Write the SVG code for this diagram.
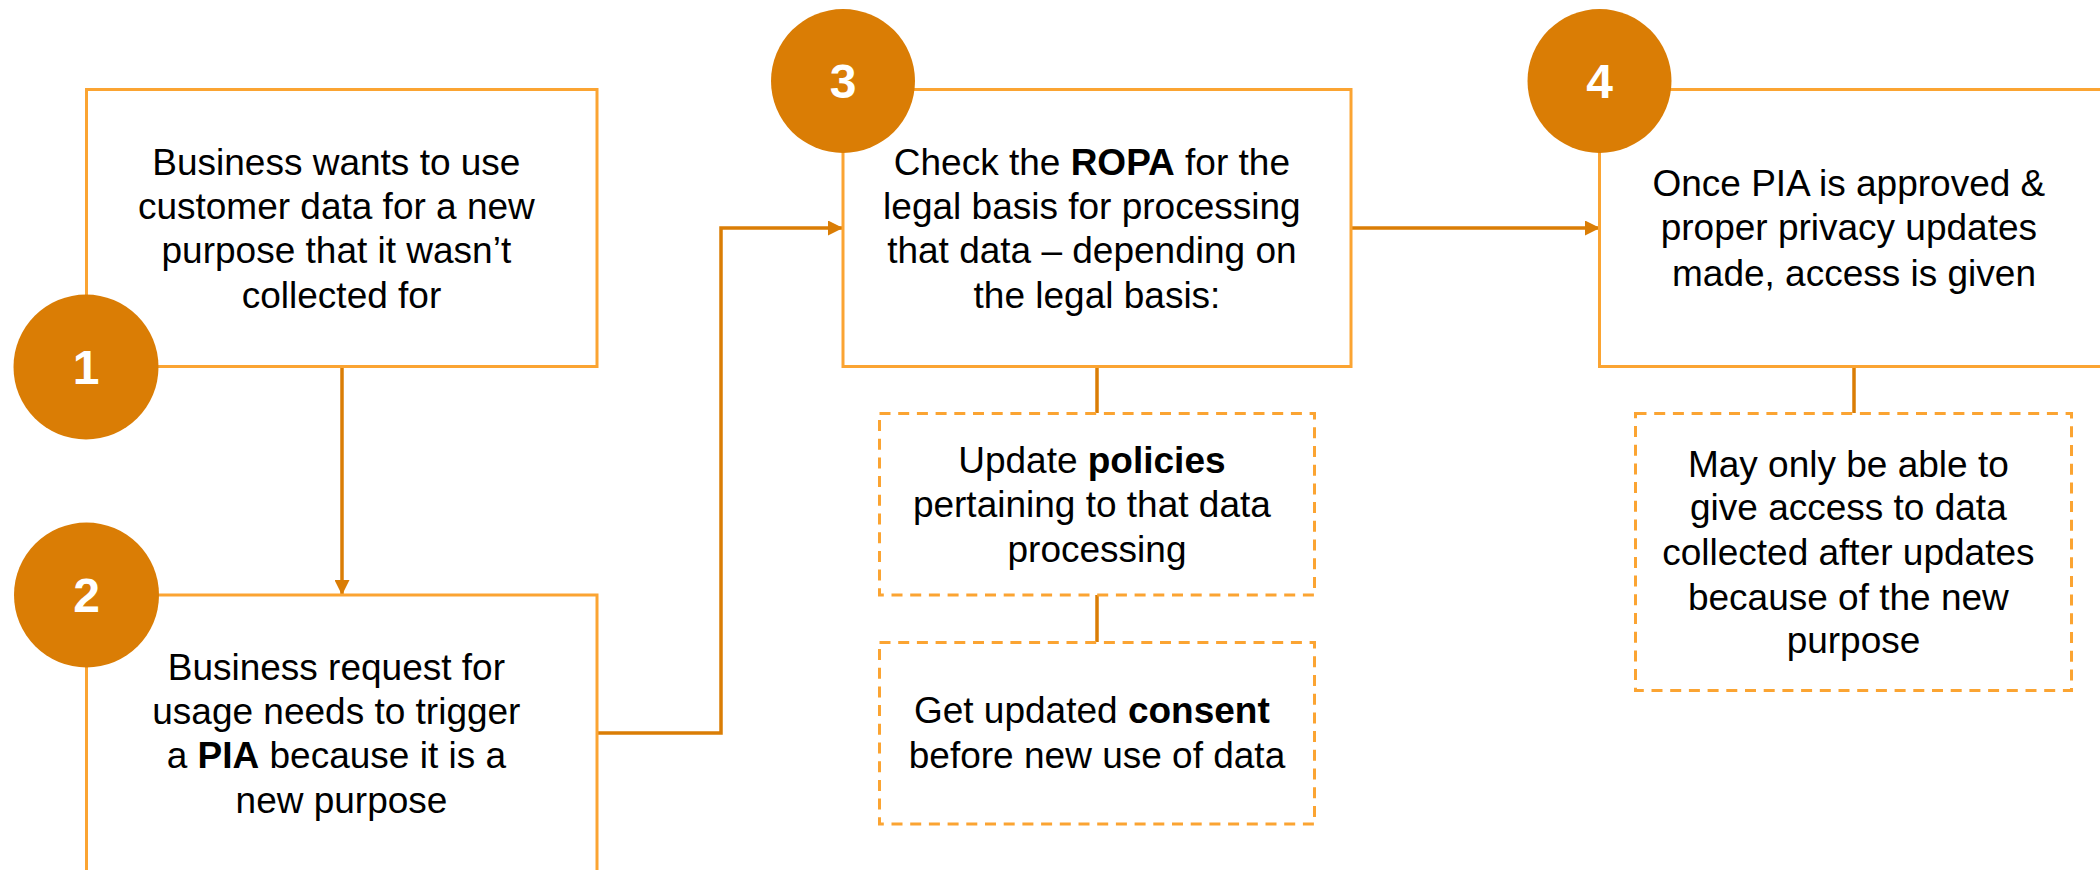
<svg xmlns="http://www.w3.org/2000/svg" width="2100" height="870" viewBox="0 0 2100 870">
  <style>
    .box { fill: #FFFFFF; stroke: #FBA432; stroke-width: 3; }
    .dbox { fill: #FFFFFF; stroke: #FBA432; stroke-width: 3; stroke-dasharray: 11 7.7; }
    .circ { fill: #DA7D05; }
    .num { font-family: "Liberation Sans", Arial, sans-serif; font-weight: bold; font-size: 48px; fill: #FFFFFF; text-anchor: middle; }
    .txt { font-family: "Liberation Sans", Arial, sans-serif; font-size: 37px; fill: #000000; text-anchor: middle; }
    .b { font-weight: bold; }
    .conn { fill: none; stroke: #DA7D05; stroke-width: 3.5; }
  </style>
  <defs>
    <marker id="arrow" viewBox="0 0 15 15" refX="15" refY="7.5" markerWidth="15" markerHeight="15" markerUnits="userSpaceOnUse" orient="auto">
      <path d="M0,0 L15,7.5 L0,15 Z" fill="#DA7D05"/>
    </marker>
  </defs>
  <rect width="2100" height="870" fill="#FFFFFF"/>

  <g id="connectors">
    <line class="conn" x1="342" y1="366" x2="342" y2="595" marker-end="url(#arrow)"/>
    <polyline class="conn" points="597,733 721,733 721,228 843,228" marker-end="url(#arrow)"/>
    <line class="conn" x1="1351" y1="228" x2="1600" y2="228" marker-end="url(#arrow)"/>
    <line class="conn" x1="1097" y1="367" x2="1097" y2="413"/>
    <line class="conn" x1="1097" y1="595" x2="1097" y2="642"/>
    <line class="conn" x1="1854" y1="367" x2="1854" y2="413"/>
  </g>

  <g id="step1">
    <rect class="box" x="86.5" y="89.5" width="510.5" height="277"/>
    <text class="txt">
      <tspan x="341.5" y="175">Business wants to use</tspan>
      <tspan x="341.5" y="219">customer data for a new</tspan>
      <tspan x="341.5" y="263">purpose that it wasn’t</tspan>
      <tspan x="341.5" y="308">collected for</tspan>
    </text>
    <circle class="circ" cx="86" cy="367" r="72.5"/>
    <text class="num" x="86" y="384">1</text>
  </g>

  <g id="step2">
    <rect class="box" x="86.5" y="595" width="510.5" height="300"/>
    <text class="txt">
      <tspan x="341.5" y="680">Business request for</tspan>
      <tspan x="341.5" y="724">usage needs to trigger</tspan>
      <tspan x="341.5" y="768">a <tspan class="b">PIA</tspan> because it is a</tspan>
      <tspan x="341.5" y="813">new purpose</tspan>
    </text>
    <circle class="circ" cx="86.5" cy="595" r="72.5"/>
    <text class="num" x="86.5" y="612">2</text>
  </g>

  <g id="step3">
    <rect class="box" x="843" y="89.5" width="508" height="277"/>
    <text class="txt">
      <tspan x="1097" y="175">Check the <tspan class="b">ROPA</tspan> for the</tspan>
      <tspan x="1097" y="219">legal basis for processing</tspan>
      <tspan x="1097" y="263">that data – depending on</tspan>
      <tspan x="1097" y="308">the legal basis:</tspan>
    </text>
    <circle class="circ" cx="843" cy="81" r="72"/>
    <text class="num" x="843" y="98">3</text>
  </g>

  <g id="policies">
    <rect class="dbox" x="879.5" y="413.5" width="435" height="181.5"/>
    <text class="txt">
      <tspan x="1097" y="473">Update <tspan class="b">policies</tspan></tspan>
      <tspan x="1097" y="517">pertaining to that data</tspan>
      <tspan x="1097" y="562">processing</tspan>
    </text>
  </g>

  <g id="consent">
    <rect class="dbox" x="879.5" y="642.5" width="435" height="181.5"/>
    <text class="txt">
      <tspan x="1097" y="723">Get updated <tspan class="b">consent</tspan></tspan>
      <tspan x="1097" y="768">before new use of data</tspan>
    </text>
  </g>

  <g id="step4">
    <rect class="box" x="1599.5" y="89.5" width="509" height="277"/>
    <text class="txt">
      <tspan x="1854" y="196">Once PIA is approved &amp;</tspan>
      <tspan x="1854" y="240">proper privacy updates</tspan>
      <tspan x="1854" y="286">made, access is given</tspan>
    </text>
    <circle class="circ" cx="1599.5" cy="81" r="72"/>
    <text class="num" x="1599.5" y="98">4</text>
  </g>

  <g id="access-note">
    <rect class="dbox" x="1635.5" y="413.5" width="436" height="277"/>
    <text class="txt">
      <tspan x="1853.5" y="477">May only be able to</tspan>
      <tspan x="1853.5" y="520">give access to data</tspan>
      <tspan x="1853.5" y="565">collected after updates</tspan>
      <tspan x="1853.5" y="610">because of the new</tspan>
      <tspan x="1853.5" y="653">purpose</tspan>
    </text>
  </g>
</svg>
